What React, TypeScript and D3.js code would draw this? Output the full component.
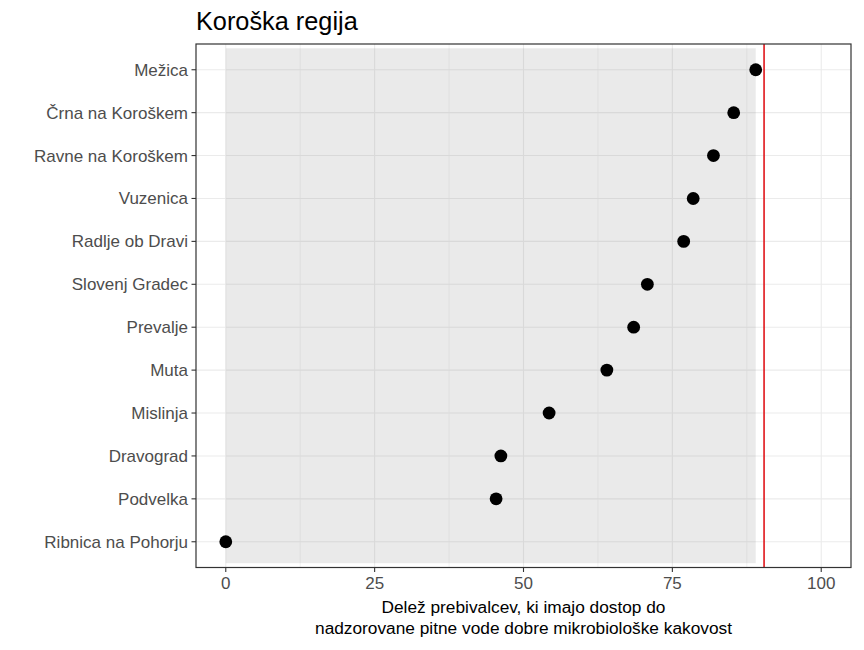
import React from "react";
import * as d3 from "d3";

const categories = [
  "Mežica",
  "Črna na Koroškem",
  "Ravne na Koroškem",
  "Vuzenica",
  "Radlje ob Dravi",
  "Slovenj Gradec",
  "Prevalje",
  "Muta",
  "Mislinja",
  "Dravograd",
  "Podvelka",
  "Ribnica na Pohorju",
];
const values = [89.0, 85.3, 81.9, 78.5, 76.9, 70.8, 68.5, 64.0, 54.3, 46.2, 45.4, 0];
const xTicks = [0, 25, 50, 75, 100];
const xMinor = [12.5, 37.5, 62.5, 87.5];
const bandMin = 0;
const bandMax = 89.0;
const refValue = 90.4;
const title = "Koroška regija";
const xTitle = ["Delež prebivalcev, ki imajo dostop do", "nadzorovane pitne vode dobre mikrobiološke kakovost"];

const W = 864;
const H = 650;
const left = 196;
const right = 851;
const top = 44;
const bottom = 567.5;
const font = "'Liberation Sans', Arial, sans-serif";

export default function App() {
  const x = d3.scaleLinear().domain([-5, 105]).range([left, right]);
  const y = d3.scalePoint<string>().domain(categories).range([top, bottom]).padding(0.6);
  const step = y.step();
  const yFirst = y(categories[0])!;
  const yLast = y(categories[categories.length - 1])!;

  return (
    <svg
      width={W}
      height={H}
      style={{ position: "absolute", left: 0, top: 0, display: "block", background: "#fff" }}
      fontFamily={font}
    >
      <rect x={0} y={0} width={W} height={H} fill="#fff" />
      {xMinor.map((v) => (
        <line key={"mn" + v} x1={x(v)} x2={x(v)} y1={top} y2={bottom} stroke="#EBEBEB" strokeWidth={0.6} />
      ))}
      {xTicks.map((v) => (
        <line key={"mj" + v} x1={x(v)} x2={x(v)} y1={top} y2={bottom} stroke="#EBEBEB" strokeWidth={1.1} />
      ))}
      {categories.map((c) => (
        <line key={"hg" + c} x1={left} x2={right} y1={y(c)} y2={y(c)} stroke="#EBEBEB" strokeWidth={1.1} />
      ))}
      <rect
        x={x(bandMin)}
        width={x(bandMax) - x(bandMin)}
        y={yFirst - step / 2}
        height={yLast - yFirst + step}
        fill="#7F7F7F"
        fillOpacity={0.16}
      />
      <line x1={x(refValue)} x2={x(refValue)} y1={top} y2={bottom} stroke="#E0161B" strokeWidth={1.6} />
      {categories.map((c, i) => (
        <circle key={"pt" + c} cx={x(values[i])} cy={y(c)} r={6.4} fill="#000" />
      ))}
      <rect x={left} y={top} width={right - left} height={bottom - top} fill="none" stroke="#333333" strokeWidth={1.2} />
      {categories.map((c) => (
        <g key={"yl" + c}>
          <line x1={left - 4.5} x2={left} y1={y(c)} y2={y(c)} stroke="#333333" strokeWidth={1.1} />
          <text x={left - 8} y={y(c)} dy="0.35em" textAnchor="end" fontSize={17} fill="#4D4D4D">
            {c}
          </text>
        </g>
      ))}
      {xTicks.map((v) => (
        <g key={"xl" + v}>
          <line x1={x(v)} x2={x(v)} y1={bottom} y2={bottom + 4.5} stroke="#333333" strokeWidth={1.1} />
          <text x={x(v)} y={bottom + 21} textAnchor="middle" fontSize={17} fill="#4D4D4D">
            {v}
          </text>
        </g>
      ))}
      {xTitle.map((t, i) => (
        <text key={"xt" + i} x={(left + right) / 2} y={612.5 + i * 21} textAnchor="middle" fontSize={17.3} fill="#000">
          {t}
        </text>
      ))}
      <text x={left} y={30} fontSize={25.3} fill="#000">
        {title}
      </text>
    </svg>
  );
}
